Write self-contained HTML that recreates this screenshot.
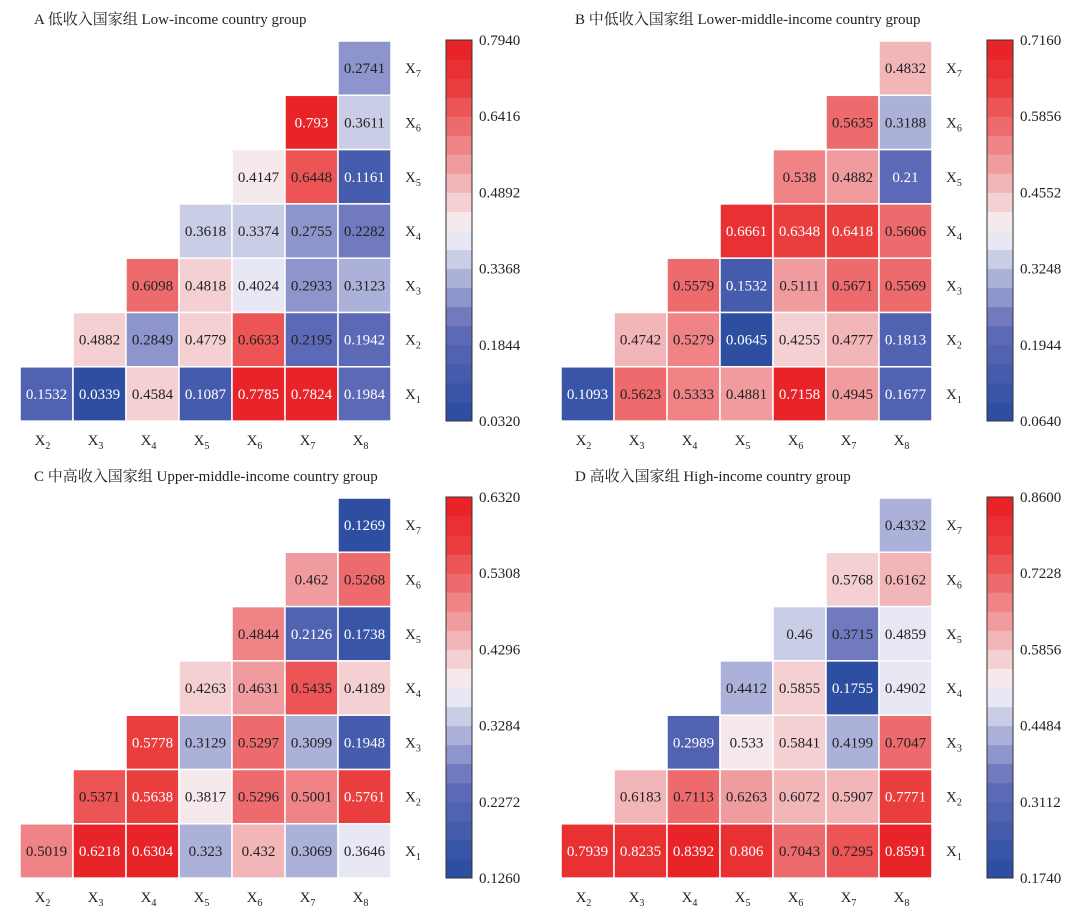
<!DOCTYPE html>
<html><head><meta charset="utf-8">
<style>
body{margin:0;background:#fff;width:1080px;height:919px;overflow:hidden}
svg text{font-family:"Liberation Serif","Noto Serif CJK SC",serif}
</style></head>
<body>
<svg id="chart" width="1080" height="919" xmlns="http://www.w3.org/2000/svg"></svg>
<script>
const titles=["A 低收入国家组 Low-income country group","B 中低收入国家组 Lower-middle-income country group","C 中高收入国家组 Upper-middle-income country group","D 高收入国家组 High-income country group"];
const colLabels=["2","3","4","5","6","7","8"];
const rowLabels=["7","6","5","4","3","2","1"];
// rows top (X7) to bottom (X1); values right-aligned from X8
const valsA=[[0.2741],[0.793,0.3611],[0.4147,0.6448,0.1161],[0.3618,0.3374,0.2755,0.2282],[0.6098,0.4818,0.4024,0.2933,0.3123],[0.4882,0.2849,0.4779,0.6633,0.2195,0.1942],[0.1532,0.0339,0.4584,0.1087,0.7785,0.7824,0.1984]];
const valsB=[[0.4832],[0.5635,0.3188],[0.538,0.4882,0.21],[0.6661,0.6348,0.6418,0.5606],[0.5579,0.1532,0.5111,0.5671,0.5569],[0.4742,0.5279,0.0645,0.4255,0.4777,0.1813],[0.1093,0.5623,0.5333,0.4881,0.7158,0.4945,0.1677]];
const valsC=[[0.1269],[0.462,0.5268],[0.4844,0.2126,0.1738],[0.4263,0.4631,0.5435,0.4189],[0.5778,0.3129,0.5297,0.3099,0.1948],[0.5371,0.5638,0.3817,0.5296,0.5001,0.5761],[0.5019,0.6218,0.6304,0.323,0.432,0.3069,0.3646]];
const valsD=[[0.4332],[0.5768,0.6162],[0.46,0.3715,0.4859],[0.4412,0.5855,0.1755,0.4902],[0.2989,0.533,0.5841,0.4199,0.7047],[0.6183,0.7113,0.6263,0.6072,0.5907,0.7771],[0.7939,0.8235,0.8392,0.806,0.7043,0.7295,0.8591]];
const rangeMin=[0.032,0.064,0.126,0.174];
const rangeMax=[0.794,0.716,0.632,0.860];
const allVals=[valsA,valsB,valsC,valsD];
const ticksA=["0.0320","0.1844","0.3368","0.4892","0.6416","0.7940"];
const ticksB=["0.0640","0.1944","0.3248","0.4552","0.5856","0.7160"];
const ticksC=["0.1260","0.2272","0.3284","0.4296","0.5308","0.6320"];
const ticksD=["0.1740","0.3112","0.4484","0.5856","0.7228","0.8600"];
const allTicks=[ticksA,ticksB,ticksC,ticksD];

const NS="http://www.w3.org/2000/svg";
const svg=document.getElementById('chart');
function mk(tag,attrs,parent){const e=document.createElementNS(NS,tag);for(const k in attrs)e.setAttribute(k,attrs[k]);(parent||svg).appendChild(e);return e;}
const stops=[[0,[40,75,160]],[0.25,[98,108,184]],[0.5,[246,246,249]],[0.75,[238,118,120]],[0.875,[234,62,62]],[1,[232,30,36]]];
function cmap(t){const n=20;t=Math.min(0.9999,Math.max(0,t));t=(Math.floor(t*n)+0.5)/n;
 for(let i=0;i<stops.length-1;i++){const[a,ca]=stops[i],[b,cb]=stops[i+1];if(t<=b){const f=(t-a)/(b-a);return `rgb(${ca.map((c,j)=>Math.round(c+(cb[j]-c)*f)).join(',')})`;}}}
const offX=[0,541,0,541], offY=[0,0,457,457];
const cw=53, ch=54.3;
allVals.forEach((vals,p)=>{
 const ox=20+offX[p], oy=41+offY[p];
 const g=mk('g',{},svg);
 
 
 const tt=mk('text',{x:offX[p]+34,y:offY[p]+24,'font-size':15,fill:'#222'},g);tt.textContent=titles[p];
 
 
 const lo=rangeMin[p],hi=rangeMax[p];
 const xs=i=>ox+i*cw, ys=r=>oy+r*ch;
 vals.forEach((row,r)=>{
  const start=7-row.length;
  row.forEach((v,k)=>{
   const c=start+k,t=(v-lo)/(hi-lo);
   const rc=mk('rect',{x:xs(c),y:ys(r),width:cw,height:ch,fill:cmap(t),stroke:'#fff','stroke-width':1.5},g);
   
   
   const tx=mk('text',{x:xs(c)+cw/2,y:ys(r)+ch/2+5,'text-anchor':'middle','font-size':15,fill:(t<0.23||t>0.86)?'#fff':'#222'},g);
   tx.textContent=String(v);
   
   
  });
 });
 colLabels.forEach((l,i)=>{const t=mk('text',{x:xs(i)+cw/2-4,y:oy+7*ch+24,'text-anchor':'middle','font-size':15,fill:'#222'},g);
  t.innerHTML='X<tspan font-size="10" dy="4">'+l+'</tspan>';
  
  });
 rowLabels.forEach((l,i)=>{const t=mk('text',{x:ox+385,y:ys(i)+ch/2+5,'font-size':15,fill:'#222'},g);
  t.innerHTML='X<tspan font-size="10" dy="4">'+l+'</tspan>';
  
  });
 const bx=offX[p]+446,by=offY[p]+40,bh=381,bw=26,n=20;
 for(let i=0;i<n;i++){const r=mk('rect',{x:bx,y:by+bh-(i+1)*bh/n,width:bw,height:bh/n+0.5,fill:cmap((i+0.5)/n)},g);
  
  }
 const fr=mk('rect',{x:bx,y:by,width:bw,height:bh,fill:'none',stroke:'#333','stroke-width':1},g);
 
 
 allTicks[p].forEach((l,i)=>{const t=mk('text',{x:bx+33,y:by+bh-i*bh/5+5,'font-size':15,fill:'#222'},g);t.textContent=l;
  
  });
});
</script>
</body></html>
